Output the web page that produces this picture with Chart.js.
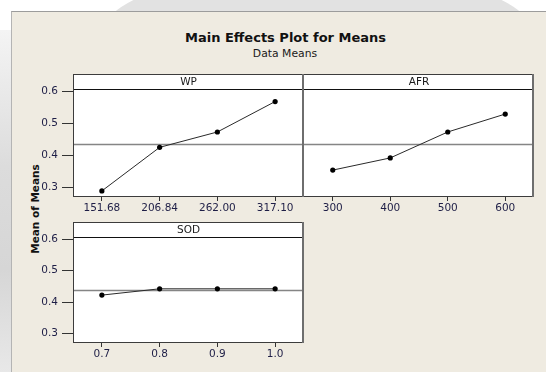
<!DOCTYPE html>
<html>
<head>
<meta charset="utf-8">
<script src="https://cdn.jsdelivr.net/npm/chart.js@4.4.1/dist/chart.umd.min.js"></script>
<style>
  html, body { margin: 0; padding: 0; background: #fff; }
  #page { position: relative; width: 546px; height: 372px; overflow: hidden; background: #fff; }
  .wm-top { position: absolute; left: 105px; top: -30px; width: 425px; height: 60px; background: #e2e2e2; border-radius: 50% 50% 0 0 / 100% 100% 0 0; }
  .wm-left { position: absolute; left: 0; top: 30px; width: 11px; height: 342px; background: linear-gradient(#f4f4f4, #dcdcdc 40%, #d6d6d6 70%, #e8e8e8); }
  #frame { position: absolute; left: 11px; top: 11px; width: 535px; height: 361px; background: #efebe1; border-top: 1px solid #9c9c9c; border-left: 1px solid #b4b4b4; box-sizing: border-box; }
  #title { position: absolute; left: 185px; width: 200px; top: 30px; text-align: center; font: bold 13px "DejaVu Sans"; color: #111; white-space: nowrap; }
  #subtitle { position: absolute; left: 185px; width: 200px; top: 47px; text-align: center; font: 10.8px "DejaVu Sans"; color: #1a1a1a; white-space: nowrap; }
  #ytitle { position: absolute; left: 35px; top: 209px; transform: translate(-50%, -50%) rotate(-90deg); font: bold 10.5px "DejaVu Sans"; color: #111; white-space: nowrap; }
  canvas { position: absolute; }
</style>
</head>
<body>
<div id="page">
  <div class="wm-top"></div>
  <div class="wm-left"></div>
  <div id="frame"></div>
  <div id="title">Main Effects Plot for Means</div>
  <div id="subtitle">Data Means</div>
  <div id="ytitle">Mean of Means</div>
  <canvas id="wpChart" width="283" height="148" style="left:23px; top:73px;"></canvas>
  <canvas id="afrChart" width="232" height="148" style="left:304px; top:73px;"></canvas>
  <canvas id="sodChart" width="283" height="146" style="left:23px; top:221px;"></canvas>
</div>

<script>
//==============================Data============================

const wpLevels = ['151.68', '206.84', '262.00', '317.10'];
const wpMeans = [0.289, 0.425, 0.473, 0.568];

const afrLevels = ['300', '400', '500', '600'];
const afrMeans = [0.354, 0.392, 0.473, 0.529];

const sodLevels = ['0.7', '0.8', '0.9', '1.0'];
const sodMeans = [0.422, 0.442, 0.442, 0.442];

const grandMean = 0.437;
const yTicks = [0.3, 0.4, 0.5, 0.6];

//==============================Panel decoration============================

// white panel, overall mean line, factor header and box
const panelFrame = {
    id: 'panelFrame',
    beforeDraw(chart) {
        const { ctx, chartArea: a } = chart;
        ctx.save();
        ctx.fillStyle = '#fff';
        ctx.fillRect(a.left, a.top, a.right - a.left, a.bottom - a.top);
        ctx.restore();
    },
    beforeDatasetsDraw(chart) {
        const { ctx, chartArea: a, scales } = chart;
        const left = Math.round(a.left), right = Math.round(a.right);

        // overall mean
        ctx.save();
        const yMean = Math.round(scales.y.getPixelForValue(grandMean)) + 0.5;
        ctx.strokeStyle = '#858585';
        ctx.lineWidth = 1.6;
        ctx.beginPath();
        ctx.moveTo(left, yMean);
        ctx.lineTo(right, yMean);
        ctx.stroke();
        ctx.restore();
    },
    afterDraw(chart) {
        const { ctx, chartArea: a } = chart;
        const opts = chart.options.plugins.panelFrame;
        const left = Math.round(a.left), right = Math.round(a.right);
        const top = Math.round(a.top), bottom = Math.round(a.bottom);
        const headerBottom = top + 15;

        ctx.save();
        ctx.strokeStyle = '#111';
        ctx.lineWidth = 1;
        ctx.beginPath();
        ctx.moveTo(left, headerBottom + 0.5);
        ctx.lineTo(right, headerBottom + 0.5);
        ctx.stroke();

        ctx.fillStyle = '#1a1a1a';
        ctx.font = '10.5px "DejaVu Sans"';
        ctx.textAlign = 'center';
        ctx.textBaseline = 'middle';
        ctx.fillText(opts.label, (left + right) / 2, top + 8);

        // box (the AFR panel shares its left side with WP)
        ctx.strokeStyle = '#3c3c3c';
        ctx.beginPath();
        ctx.moveTo(right, top + 0.5);
        ctx.lineTo(left, top + 0.5);
        if (opts.leftEdge) {
            ctx.moveTo(left + 0.5, top);
            ctx.lineTo(left + 0.5, bottom);
        }
        ctx.moveTo(left, bottom - 0.5);
        ctx.lineTo(right, bottom - 0.5);
        ctx.stroke();
        ctx.strokeStyle = '#6e6e6e';
        ctx.lineWidth = 2;
        ctx.beginPath();
        ctx.moveTo(right - 1, top);
        ctx.lineTo(right - 1, bottom);
        ctx.stroke();
        ctx.restore();
    }
};

//==============================Panels============================

function makePanel(id, label, levels, means, showY) {
    const ctx = document.getElementById(id);

    return new Chart(ctx, {
        type: 'line',
        data: {
            labels: levels,
            datasets: [{
                data: means,
                borderColor: '#2a2a2a',
                borderWidth: 1,
                pointRadius: 2.6,
                pointBackgroundColor: '#000',
                pointBorderColor: '#000',
                pointBorderWidth: 0,
                tension: 0
            }]
        },
        options: {
            responsive: false,
            animation: false,
            devicePixelRatio: 1,
            layout: { autoPadding: false, padding: { top: 1, right: 2, left: 0, bottom: 0 } },
            plugins: {
                legend: { display: false },
                tooltip: { enabled: false },
                panelFrame: { label: label, leftEdge: showY }
            },
            scales: {
                x: {
                    type: 'category',
                    offset: true,
                    border: { display: false },
                    grid: { drawOnChartArea: false, tickLength: 4, color: '#333' },
                    ticks: {
                        color: '#1e1e46',
                        font: { family: 'DejaVu Sans', size: 10.5 },
                        padding: 1,
                        maxRotation: 0,
                        autoSkip: false
                    },
                    afterFit: function (s) {
                        s.height = 24;
                        s.paddingLeft = 0;
                        s.paddingRight = 0;
                    }
                },
                y: {
                    display: showY,
                    min: 0.27,
                    max: 0.654,
                    border: { display: false },
                    grid: { drawOnChartArea: false, tickLength: 11, color: '#333' },
                    afterBuildTicks: function (s) {
                        s.ticks = yTicks.map(v => ({ value: v }));
                    },
                    ticks: {
                        color: '#1e1e46',
                        font: { family: 'DejaVu Sans', size: 10.5 },
                        padding: 4,
                        callback: v => v.toFixed(1)
                    },
                    afterFit: function (s) {
                        s.width = showY ? 50 : 0;
                        s.paddingTop = 0;
                        s.paddingBottom = 0;
                    }
                }
            }
        },
        plugins: [panelFrame]
    });
}

makePanel('wpChart', 'WP', wpLevels, wpMeans, true);
makePanel('afrChart', 'AFR', afrLevels, afrMeans, false);
makePanel('sodChart', 'SOD', sodLevels, sodMeans, true);
</script>
</body>
</html>
